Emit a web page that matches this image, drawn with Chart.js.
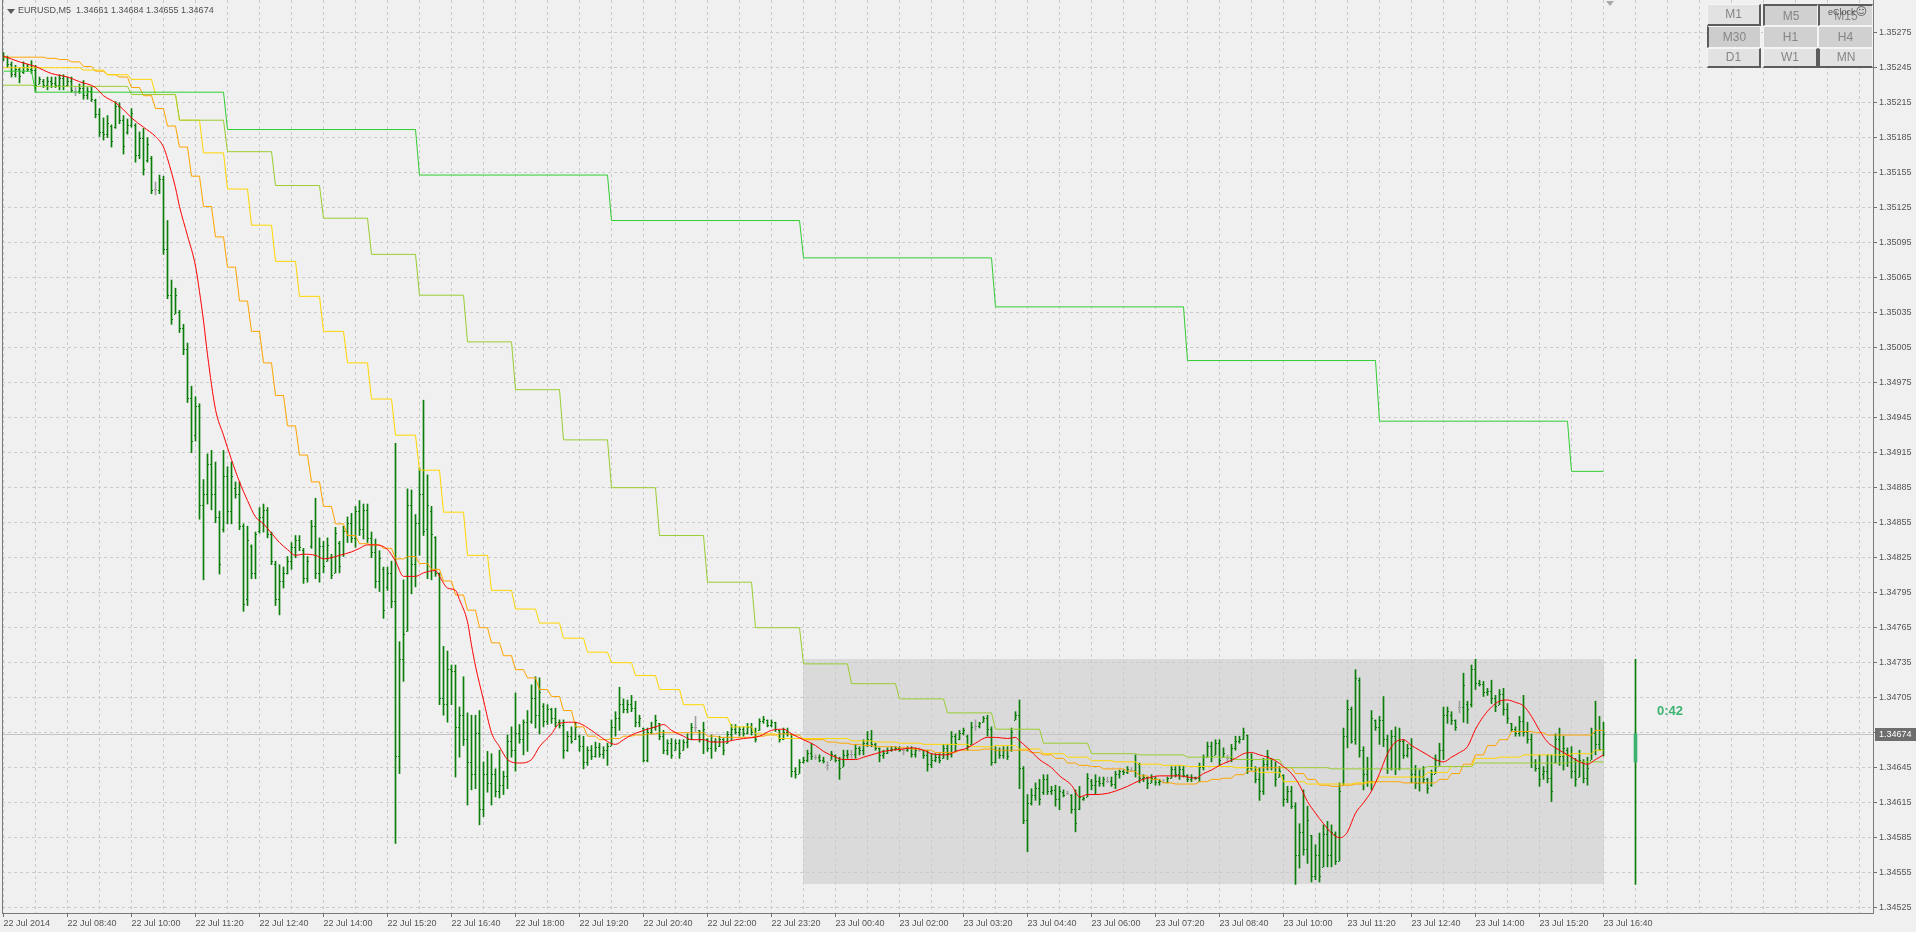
<!DOCTYPE html>
<html>
<head>
<meta charset="utf-8">
<title>EURUSD,M5</title>
<script src="https://cdn.jsdelivr.net/npm/chart.js@4.4.1/dist/chart.umd.min.js"></script>
<style>
  html, body { margin: 0; padding: 0; background: #f0f0f0; overflow: hidden; }
  #wrap { position: relative; width: 1916px; height: 932px; }
  #chart { position: absolute; left: 0; top: 0; }
  .txt { position: absolute; font-family: "Liberation Sans", Arial, sans-serif; white-space: pre; }
  .tri { position: absolute; width: 0; height: 0; border-left: 4px solid transparent; border-right: 4px solid transparent; }
  .btn { position: absolute; box-sizing: border-box; font: 12px "Liberation Sans", Arial, sans-serif; color: #858585;
         text-align: center; border: 1px solid #f4f4f4; }
</style>
</head>
<body>
<div id="wrap">
  <canvas id="chart" width="1916" height="932"></canvas>

  <div class="tri" style="left:7px;top:9px;border-top:5px solid #5a5a5a;"></div>
  <div class="txt" id="title" style="left:18px;top:5px;font-size:9px;color:#505050;"></div>
  <div class="tri" style="left:1606px;top:1px;border-top:5px solid #a8a8a8;"></div>

  <div class="btn" style="left:1707px;top:4px;width:54px;height:22px;line-height:19px;background:#e2e2e2;border-right:2px solid #5c5c5c;border-bottom:2px solid #5c5c5c;">M1</div>
  <div class="btn" style="left:1763px;top:4px;width:55px;height:22px;line-height:21px;background:#d0d0d0;border-top:2px solid #5c5c5c;border-left:2px solid #5c5c5c;">M5</div>
  <div class="btn" style="left:1818px;top:4px;width:55px;height:22px;line-height:21px;background:#d6d6d6;border-top:2px solid #5c5c5c;border-left:2px solid #5c5c5c;">M15</div>
  <div class="btn" style="left:1707px;top:26px;width:54px;height:22px;line-height:20px;background:#cdcdcd;border-left:2px solid #5c5c5c;">M30</div>
  <div class="btn" style="left:1763px;top:26px;width:55px;height:22px;line-height:20px;background:#d0d0d0;">H1</div>
  <div class="btn" style="left:1818px;top:26px;width:55px;height:22px;line-height:20px;background:#d0d0d0;">H4</div>
  <div class="btn" style="left:1707px;top:48px;width:54px;height:20px;line-height:17px;background:#e2e2e2;border-right:2px solid #5c5c5c;border-bottom:2px solid #5c5c5c;">D1</div>
  <div class="btn" style="left:1763px;top:48px;width:55px;height:20px;line-height:17px;background:#e2e2e2;border-right:2px solid #5c5c5c;border-bottom:2px solid #5c5c5c;">W1</div>
  <div class="btn" style="left:1818px;top:48px;width:55px;height:20px;line-height:17px;background:#e2e2e2;border-left:2px solid #5c5c5c;border-bottom:2px solid #5c5c5c;">MN</div>
  <div class="txt" style="left:1828px;top:5px;font-size:9px;color:#555;">eClock<span style="font-family:'DejaVu Sans';font-size:11px;">☺</span></div>

  <div class="txt" id="timer" style="left:1657px;top:703px;font-size:13px;font-weight:bold;color:#3cb371;"></div>
</div>

<script>
// ---- header / timer text
const symbolName = 'EURUSD,M5';
const timerText = '0:42';

// ---- x axis: bar 0 = 22 Jul 07:20 (M5 bars), labels every 16 bars
const xTickBars = [0, 16, 32, 48, 64, 80, 96, 112, 128, 144, 160, 176, 192, 208, 224, 240, 256, 272, 288, 304, 320, 336, 352, 368, 384, 400];
const xTickLabels = ['22 Jul 2014', '22 Jul 08:40', '22 Jul 10:00', '22 Jul 11:20', '22 Jul 12:40', '22 Jul 14:00', '22 Jul 15:20',
  '22 Jul 16:40', '22 Jul 18:00', '22 Jul 19:20', '22 Jul 20:40', '22 Jul 22:00', '22 Jul 23:20', '23 Jul 00:40', '23 Jul 02:00',
  '23 Jul 03:20', '23 Jul 04:40', '23 Jul 06:00', '23 Jul 07:20', '23 Jul 08:40', '23 Jul 10:00', '23 Jul 11:20', '23 Jul 12:40',
  '23 Jul 14:00', '23 Jul 15:20', '23 Jul 16:40'];

// ---- y axis ticks
const yTicks = [1.34525, 1.34555, 1.34585, 1.34615, 1.34645, 1.34675, 1.34705, 1.34735, 1.34765, 1.34795, 1.34825, 1.34855, 1.34885,
  1.34915, 1.34945, 1.34975, 1.35005, 1.35035, 1.35065, 1.35095, 1.35125, 1.35155, 1.35185, 1.35215, 1.35245, 1.35275];

// ---- OHLC bars (401 x M5)
const opens = [
  1.35252,1.35254,1.35248,1.35240,1.35244,1.35241,1.35246,1.35244,1.35243,1.35231,
  1.35234,1.35230,1.35234,1.35232,1.35230,1.35236,1.35230,1.35234,1.35225,1.35225,
  1.35228,1.35222,1.35225,1.35217,1.35205,1.35190,1.35188,1.35195,1.35194,1.35212,
  1.35200,1.35190,1.35196,1.35196,1.35170,1.35185,1.35166,1.35168,1.35141,1.35140,
  1.35150,1.35090,1.35050,1.35034,1.35036,1.35022,1.35004,1.34962,1.34930,1.34955,
  1.34870,1.34880,1.34905,1.34880,1.34860,1.34850,1.34895,1.34865,1.34885,1.34880,
  1.34852,1.34790,1.34835,1.34812,1.34848,1.34860,1.34866,1.34845,1.34820,1.34790,
  1.34805,1.34812,1.34822,1.34834,1.34840,1.34832,1.34808,1.34835,1.34852,1.34812,
  1.34835,1.34822,1.34826,1.34812,1.34838,1.34828,1.34848,1.34855,1.34842,1.34865,
  1.34850,1.34866,1.34842,1.34830,1.34805,1.34815,1.34800,1.34812,1.34788,1.34655,
  1.34738,1.34762,1.34870,1.34820,1.34855,1.34880,1.34850,1.34865,1.34843,1.34812,
  1.34705,1.34700,1.34730,1.34728,1.34680,1.34690,1.34670,1.34650,1.34640,1.34675,
  1.34610,1.34640,1.34632,1.34640,1.34625,1.34630,1.34638,1.34668,1.34660,1.34675,
  1.34670,1.34684,1.34685,1.34705,1.34690,1.34698,1.34685,1.34695,1.34688,1.34684,
  1.34682,1.34660,1.34672,1.34670,1.34672,1.34664,1.34650,1.34660,1.34655,1.34663,
  1.34657,1.34660,1.34664,1.34680,1.34688,1.34700,1.34695,1.34700,1.34696,1.34684,
  1.34679,1.34652,1.34676,1.34680,1.34683,1.34672,1.34660,1.34666,1.34660,1.34666,
  1.34660,1.34667,1.34670,1.34680,1.34677,1.34670,1.34670,1.34662,1.34668,1.34664,
  1.34670,1.34666,1.34674,1.34678,1.34676,1.34678,1.34675,1.34680,1.34676,1.34677,
  1.34685,1.34686,1.34682,1.34684,1.34677,1.34670,1.34676,1.34674,1.34642,1.34640,
  1.34650,1.34652,1.34658,1.34654,1.34654,1.34652,1.34647,1.34652,1.34656,1.34652,
  1.34646,1.34656,1.34657,1.34657,1.34662,1.34660,1.34666,1.34670,1.34665,1.34662,
  1.34656,1.34658,1.34660,1.34661,1.34662,1.34660,1.34660,1.34662,1.34657,1.34660,
  1.34660,1.34656,1.34648,1.34652,1.34654,1.34653,1.34662,1.34658,1.34672,1.34670,
  1.34675,1.34672,1.34665,1.34681,1.34681,1.34684,1.34688,1.34678,1.34650,1.34660,
  1.34656,1.34660,1.34660,1.34686,1.34690,1.34645,1.34600,1.34615,1.34622,1.34628,
  1.34624,1.34635,1.34625,1.34626,1.34618,1.34624,1.34623,1.34622,1.34610,1.34610,
  1.34618,1.34620,1.34634,1.34630,1.34634,1.34632,1.34634,1.34634,1.34631,1.34640,
  1.34642,1.34641,1.34643,1.34643,1.34648,1.34636,1.34637,1.34632,1.34636,1.34633,
  1.34633,1.34633,1.34636,1.34644,1.34640,1.34644,1.34639,1.34635,1.34637,1.34636,
  1.34646,1.34654,1.34664,1.34656,1.34666,1.34654,1.34653,1.34653,1.34662,1.34668,
  1.34670,1.34673,1.34645,1.34646,1.34635,1.34625,1.34648,1.34653,1.34646,1.34637,
  1.34639,1.34618,1.34625,1.34612,1.34570,1.34590,1.34575,1.34587,1.34552,1.34570,
  1.34560,1.34588,1.34570,1.34588,1.34565,1.34630,1.34672,1.34695,1.34670,1.34720,
  1.34660,1.34640,1.34645,1.34686,1.34680,1.34686,1.34670,1.34645,1.34672,1.34645,
  1.34668,1.34656,1.34662,1.34640,1.34632,1.34638,1.34635,1.34630,1.34640,1.34652,
  1.34660,1.34690,1.34690,1.34686,1.34697,1.34697,1.34700,1.34700,1.34730,1.34718,
  1.34717,1.34710,1.34711,1.34705,1.34699,1.34708,1.34695,1.34683,1.34678,1.34675,
  1.34685,1.34676,1.34670,1.34650,1.34645,1.34640,1.34642,1.34636,1.34650,1.34670,
  1.34655,1.34660,1.34650,1.34642,1.34637,1.34650,1.34636,1.34652,1.34675,1.34665,
  1.34661];
const highs = [
  1.35258,1.35255,1.35250,1.35247,1.35245,1.35250,1.35248,1.35251,1.35247,1.35237,
  1.35235,1.35237,1.35237,1.35237,1.35239,1.35239,1.35237,1.35237,1.35228,1.35231,
  1.35234,1.35228,1.35229,1.35218,1.35210,1.35202,1.35204,1.35196,1.35216,1.35215,
  1.35204,1.35201,1.35210,1.35197,1.35190,1.35193,1.35185,1.35169,1.35147,1.35153,
  1.35152,1.35114,1.35063,1.35056,1.35037,1.35025,1.35009,1.34972,1.34963,1.34957,
  1.34892,1.34914,1.34917,1.34907,1.34865,1.34917,1.34903,1.34907,1.34890,1.34890,
  1.34854,1.34852,1.34836,1.34847,1.34868,1.34871,1.34868,1.34847,1.34822,1.34819,
  1.34817,1.34826,1.34838,1.34844,1.34844,1.34833,1.34826,1.34857,1.34876,1.34842,
  1.34839,1.34842,1.34828,1.34851,1.34839,1.34852,1.34860,1.34863,1.34869,1.34874,
  1.34871,1.34871,1.34847,1.34841,1.34831,1.34817,1.34817,1.34822,1.34923,1.34753,
  1.34806,1.34884,1.34883,1.34862,1.34902,1.34960,1.34896,1.34869,1.34843,1.34812,
  1.34749,1.34745,1.34733,1.34733,1.34697,1.34723,1.34692,1.34690,1.34690,1.34694,
  1.34650,1.34659,1.34657,1.34644,1.34660,1.34642,1.34673,1.34680,1.34709,1.34682,
  1.34686,1.34694,1.34716,1.34723,1.34722,1.34700,1.34699,1.34696,1.34696,1.34686,
  1.34686,1.34676,1.34680,1.34684,1.34673,1.34672,1.34663,1.34664,1.34667,1.34666,
  1.34663,1.34666,1.34686,1.34693,1.34714,1.34704,1.34703,1.34707,1.34702,1.34690,
  1.34679,1.34679,1.34684,1.34690,1.34683,1.34677,1.34669,1.34670,1.34669,1.34669,
  1.34669,1.34674,1.34683,1.34689,1.34677,1.34684,1.34670,1.34673,1.34670,1.34672,
  1.34670,1.34676,1.34682,1.34682,1.34680,1.34680,1.34683,1.34683,1.34679,1.34687,
  1.34689,1.34686,1.34686,1.34684,1.34677,1.34679,1.34679,1.34674,1.34645,1.34652,
  1.34654,1.34660,1.34666,1.34656,1.34656,1.34654,1.34650,1.34659,1.34656,1.34654,
  1.34660,1.34660,1.34660,1.34665,1.34663,1.34669,1.34676,1.34677,1.34666,1.34662,
  1.34660,1.34662,1.34663,1.34663,1.34663,1.34662,1.34663,1.34663,1.34662,1.34662,
  1.34660,1.34660,1.34657,1.34657,1.34657,1.34665,1.34665,1.34676,1.34674,1.34677,
  1.34679,1.34673,1.34684,1.34686,1.34684,1.34689,1.34690,1.34680,1.34663,1.34662,
  1.34663,1.34663,1.34679,1.34693,1.34703,1.34646,1.34622,1.34627,1.34632,1.34635,
  1.34639,1.34639,1.34629,1.34630,1.34629,1.34626,1.34625,1.34622,1.34626,1.34629,
  1.34620,1.34640,1.34635,1.34639,1.34637,1.34637,1.34637,1.34637,1.34642,1.34643,
  1.34643,1.34646,1.34645,1.34656,1.34649,1.34639,1.34637,1.34639,1.34637,1.34635,
  1.34635,1.34637,1.34646,1.34646,1.34647,1.34646,1.34639,1.34639,1.34637,1.34649,
  1.34656,1.34667,1.34667,1.34669,1.34669,1.34662,1.34656,1.34665,1.34672,1.34672,
  1.34679,1.34673,1.34657,1.34646,1.34645,1.34653,1.34660,1.34653,1.34650,1.34646,
  1.34639,1.34629,1.34629,1.34615,1.34597,1.34626,1.34612,1.34587,1.34579,1.34589,
  1.34596,1.34599,1.34596,1.34590,1.34632,1.34679,1.34703,1.34697,1.34729,1.34722,
  1.34663,1.34654,1.34694,1.34686,1.34689,1.34706,1.34673,1.34677,1.34680,1.34679,
  1.34669,1.34665,1.34670,1.34647,1.34643,1.34646,1.34636,1.34643,1.34656,1.34666,
  1.34697,1.34697,1.34693,1.34686,1.34702,1.34726,1.34702,1.34733,1.34738,1.34720,
  1.34719,1.34713,1.34720,1.34707,1.34712,1.34713,1.34700,1.34683,1.34680,1.34689,
  1.34707,1.34684,1.34674,1.34652,1.34656,1.34646,1.34656,1.34656,1.34674,1.34679,
  1.34672,1.34662,1.34663,1.34653,1.34660,1.34652,1.34654,1.34679,1.34702,1.34689,
  1.34684];
const lows = [
  1.35251,1.35245,1.35237,1.35237,1.35232,1.35240,1.35242,1.35240,1.35224,1.35231,
  1.35228,1.35226,1.35228,1.35228,1.35226,1.35226,1.35229,1.35224,1.35221,1.35223,
  1.35218,1.35218,1.35216,1.35202,1.35186,1.35183,1.35185,1.35177,1.35193,1.35197,
  1.35171,1.35188,1.35194,1.35164,1.35167,1.35153,1.35164,1.35137,1.35136,1.35137,
  1.35085,1.35047,1.35025,1.35034,1.35018,1.34999,1.34958,1.34915,1.34925,1.34858,
  1.34806,1.34871,1.34866,1.34855,1.34811,1.34847,1.34854,1.34854,1.34876,1.34849,
  1.34779,1.34784,1.34807,1.34807,1.34846,1.34847,1.34842,1.34819,1.34784,1.34776,
  1.34799,1.34811,1.34815,1.34825,1.34831,1.34803,1.34804,1.34833,1.34807,1.34804,
  1.34812,1.34822,1.34807,1.34812,1.34812,1.34826,1.34838,1.34838,1.34834,1.34844,
  1.34841,1.34838,1.34825,1.34799,1.34796,1.34773,1.34797,1.34782,1.34580,1.34640,
  1.34719,1.34762,1.34794,1.34800,1.34827,1.34844,1.34807,1.34806,1.34809,1.34699,
  1.34690,1.34684,1.34699,1.34637,1.34654,1.34664,1.34613,1.34626,1.34627,1.34596,
  1.34603,1.34624,1.34613,1.34620,1.34619,1.34622,1.34627,1.34654,1.34642,1.34666,
  1.34656,1.34659,1.34683,1.34679,1.34674,1.34680,1.34682,1.34683,1.34680,1.34679,
  1.34653,1.34659,1.34666,1.34669,1.34659,1.34644,1.34647,1.34652,1.34654,1.34654,
  1.34653,1.34647,1.34664,1.34672,1.34677,1.34692,1.34692,1.34693,1.34680,1.34680,
  1.34650,1.34650,1.34674,1.34677,1.34669,1.34657,1.34656,1.34653,1.34660,1.34653,
  1.34660,1.34662,1.34669,1.34676,1.34667,1.34657,1.34659,1.34653,1.34659,1.34663,
  1.34656,1.34666,1.34669,1.34674,1.34672,1.34672,1.34674,1.34673,1.34667,1.34677,
  1.34683,1.34680,1.34680,1.34676,1.34667,1.34669,1.34672,1.34637,1.34636,1.34640,
  1.34649,1.34650,1.34652,1.34652,1.34650,1.34649,1.34643,1.34652,1.34650,1.34635,
  1.34646,1.34653,1.34653,1.34653,1.34656,1.34656,1.34663,1.34663,1.34660,1.34650,
  1.34653,1.34657,1.34659,1.34660,1.34659,1.34656,1.34659,1.34654,1.34654,1.34659,
  1.34653,1.34642,1.34645,1.34650,1.34649,1.34653,1.34652,1.34654,1.34659,1.34669,
  1.34673,1.34660,1.34665,1.34677,1.34679,1.34684,1.34672,1.34647,1.34649,1.34653,
  1.34653,1.34652,1.34659,1.34686,1.34627,1.34597,1.34573,1.34613,1.34617,1.34613,
  1.34622,1.34622,1.34622,1.34612,1.34609,1.34620,1.34622,1.34606,1.34590,1.34609,
  1.34617,1.34620,1.34626,1.34622,1.34629,1.34629,1.34632,1.34629,1.34627,1.34636,
  1.34639,1.34640,1.34642,1.34637,1.34632,1.34633,1.34627,1.34632,1.34630,1.34630,
  1.34632,1.34632,1.34636,1.34637,1.34635,1.34637,1.34633,1.34633,1.34635,1.34633,
  1.34643,1.34654,1.34650,1.34656,1.34647,1.34654,1.34649,1.34650,1.34660,1.34666,
  1.34669,1.34640,1.34643,1.34632,1.34617,1.34622,1.34643,1.34643,1.34629,1.34637,
  1.34612,1.34615,1.34610,1.34545,1.34559,1.34570,1.34563,1.34547,1.34549,1.34547,
  1.34560,1.34560,1.34560,1.34562,1.34565,1.34630,1.34662,1.34666,1.34665,1.34654,
  1.34626,1.34629,1.34626,1.34677,1.34665,1.34663,1.34640,1.34643,1.34639,1.34643,
  1.34653,1.34654,1.34632,1.34627,1.34625,1.34632,1.34623,1.34629,1.34640,1.34647,
  1.34652,1.34683,1.34682,1.34677,1.34692,1.34684,1.34683,1.34697,1.34712,1.34715,
  1.34706,1.34707,1.34700,1.34693,1.34699,1.34690,1.34683,1.34676,1.34672,1.34672,
  1.34672,1.34666,1.34645,1.34642,1.34629,1.34635,1.34632,1.34616,1.34649,1.34647,
  1.34643,1.34646,1.34636,1.34629,1.34637,1.34632,1.34630,1.34652,1.34656,1.34660,
  1.34655];
const closes = [
  1.35254,1.35248,1.35240,1.35244,1.35238,1.35246,1.35244,1.35243,1.35230,1.35235,
  1.35230,1.35234,1.35232,1.35230,1.35236,1.35229,1.35234,1.35226,1.35225,1.35228,
  1.35222,1.35225,1.35218,1.35205,1.35190,1.35188,1.35198,1.35182,1.35212,1.35200,
  1.35178,1.35196,1.35206,1.35170,1.35185,1.35158,1.35180,1.35140,1.35141,1.35150,
  1.35090,1.35050,1.35030,1.35050,1.35022,1.35004,1.34962,1.34925,1.34955,1.34870,
  1.34880,1.34905,1.34880,1.34860,1.34820,1.34895,1.34865,1.34895,1.34880,1.34852,
  1.34785,1.34840,1.34812,1.34845,1.34860,1.34866,1.34845,1.34822,1.34790,1.34805,
  1.34812,1.34822,1.34834,1.34840,1.34834,1.34808,1.34822,1.34852,1.34812,1.34835,
  1.34818,1.34836,1.34810,1.34846,1.34818,1.34848,1.34855,1.34842,1.34865,1.34850,
  1.34866,1.34842,1.34830,1.34805,1.34825,1.34780,1.34812,1.34788,1.34655,1.34738,
  1.34760,1.34870,1.34820,1.34855,1.34880,1.34848,1.34870,1.34845,1.34812,1.34705,
  1.34700,1.34730,1.34728,1.34680,1.34690,1.34670,1.34650,1.34640,1.34675,1.34610,
  1.34640,1.34632,1.34640,1.34625,1.34630,1.34638,1.34668,1.34660,1.34675,1.34670,
  1.34684,1.34675,1.34705,1.34690,1.34710,1.34685,1.34695,1.34688,1.34684,1.34682,
  1.34660,1.34672,1.34668,1.34680,1.34664,1.34650,1.34660,1.34655,1.34663,1.34657,
  1.34660,1.34664,1.34680,1.34688,1.34700,1.34695,1.34700,1.34696,1.34684,1.34688,
  1.34652,1.34676,1.34680,1.34686,1.34672,1.34660,1.34666,1.34656,1.34666,1.34658,
  1.34667,1.34670,1.34680,1.34680,1.34670,1.34678,1.34662,1.34668,1.34662,1.34670,
  1.34660,1.34674,1.34678,1.34676,1.34678,1.34675,1.34680,1.34676,1.34670,1.34685,
  1.34687,1.34682,1.34684,1.34678,1.34670,1.34676,1.34674,1.34642,1.34640,1.34650,
  1.34652,1.34658,1.34655,1.34654,1.34652,1.34651,1.34647,1.34657,1.34652,1.34645,
  1.34656,1.34657,1.34657,1.34662,1.34660,1.34666,1.34670,1.34665,1.34662,1.34656,
  1.34658,1.34660,1.34661,1.34662,1.34660,1.34660,1.34662,1.34657,1.34660,1.34660,
  1.34656,1.34648,1.34652,1.34654,1.34652,1.34662,1.34658,1.34672,1.34666,1.34675,
  1.34677,1.34664,1.34680,1.34681,1.34683,1.34688,1.34678,1.34650,1.34660,1.34656,
  1.34660,1.34655,1.34676,1.34690,1.34645,1.34600,1.34615,1.34622,1.34628,1.34618,
  1.34635,1.34625,1.34626,1.34618,1.34625,1.34622,1.34623,1.34610,1.34598,1.34620,
  1.34619,1.34636,1.34630,1.34634,1.34632,1.34635,1.34634,1.34631,1.34640,1.34642,
  1.34641,1.34644,1.34643,1.34650,1.34636,1.34637,1.34632,1.34636,1.34633,1.34634,
  1.34633,1.34636,1.34644,1.34640,1.34644,1.34639,1.34635,1.34637,1.34636,1.34646,
  1.34654,1.34664,1.34655,1.34666,1.34652,1.34658,1.34653,1.34662,1.34668,1.34670,
  1.34676,1.34645,1.34652,1.34635,1.34625,1.34648,1.34655,1.34646,1.34635,1.34642,
  1.34618,1.34625,1.34612,1.34570,1.34590,1.34575,1.34600,1.34552,1.34570,1.34552,
  1.34588,1.34570,1.34590,1.34565,1.34625,1.34672,1.34695,1.34668,1.34722,1.34660,
  1.34640,1.34645,1.34688,1.34680,1.34686,1.34670,1.34645,1.34672,1.34645,1.34668,
  1.34656,1.34662,1.34640,1.34632,1.34638,1.34635,1.34628,1.34640,1.34652,1.34660,
  1.34690,1.34694,1.34686,1.34680,1.34697,1.34716,1.34695,1.34730,1.34718,1.34717,
  1.34710,1.34711,1.34705,1.34698,1.34708,1.34695,1.34688,1.34678,1.34675,1.34685,
  1.34676,1.34670,1.34650,1.34645,1.34635,1.34642,1.34636,1.34625,1.34670,1.34655,
  1.34662,1.34650,1.34642,1.34635,1.34652,1.34636,1.34645,1.34675,1.34665,1.34661,
  1.34674];

// ---- moving averages
// M5 (red), sampled at these bars
const redBars = [
  0, 4, 8, 12, 16, 19, 23, 25, 28, 30,
  32, 35, 38, 40, 41, 43, 44, 46, 48, 49,
  50, 51, 53, 55, 57, 59, 61, 63, 65, 67,
  69, 71, 73, 75, 78, 80, 82, 84, 87, 89,
  91, 93, 96, 98, 100, 103, 105, 108, 109, 111,
  113, 114, 116, 117, 118, 120, 122, 124, 126, 129,
  132, 134, 137, 139, 142, 144, 147, 149, 153, 155,
  157, 161, 163, 165, 167, 170, 172, 175, 177, 180,
  183, 185, 189, 192, 195, 197, 200, 203, 205, 208,
  210, 213, 215, 218, 220, 222, 225, 227, 230, 232,
  236, 238, 241, 243, 246, 248, 251, 253, 254, 256,
  259, 262, 264, 267, 269, 271, 273, 276, 278, 281,
  284, 287, 289, 292, 294, 296, 298, 300, 302, 304,
  306, 308, 310, 312, 314, 316, 318, 320, 322, 324,
  326, 328, 330, 332, 334, 335, 336, 338, 340, 342,
  344, 346, 348, 350, 352, 354, 356, 358, 360, 362,
  364, 366, 368, 370, 372, 374, 376, 378, 380, 382,
  384, 386, 388, 390, 392, 394, 396, 398, 400];
const redVals = [
  1.35255,1.35250,1.35246,1.35240,1.35237,1.35233,1.35228,1.35221,1.35215,1.35209,
  1.35202,1.35194,1.35186,1.35177,1.35167,1.35142,1.35126,1.35101,1.35075,1.35053,
  1.35028,1.34999,1.34952,1.34930,1.34909,1.34890,1.34874,1.34860,1.34854,1.34846,
  1.34838,1.34832,1.34827,1.34828,1.34827,1.34824,1.34825,1.34827,1.34830,1.34833,
  1.34836,1.34836,1.34832,1.34822,1.34809,1.34809,1.34812,1.34814,1.34809,1.34799,
  1.34797,1.34789,1.34770,1.34750,1.34732,1.34703,1.34675,1.34663,1.34652,1.34649,
  1.34652,1.34663,1.34674,1.34683,1.34684,1.34683,1.34677,1.34672,1.34665,1.34669,
  1.34673,1.34678,1.34680,1.34682,1.34677,1.34672,1.34669,1.34669,1.34667,1.34667,
  1.34669,1.34670,1.34672,1.34677,1.34678,1.34674,1.34669,1.34664,1.34659,1.34654,
  1.34652,1.34652,1.34654,1.34657,1.34659,1.34660,1.34661,1.34662,1.34660,1.34657,
  1.34656,1.34659,1.34662,1.34666,1.34671,1.34671,1.34670,1.34671,1.34668,1.34662,
  1.34652,1.34645,1.34638,1.34630,1.34620,1.34622,1.34622,1.34623,1.34625,1.34629,
  1.34634,1.34637,1.34638,1.34638,1.34638,1.34637,1.34636,1.34640,1.34643,1.34647,
  1.34650,1.34653,1.34657,1.34658,1.34656,1.34654,1.34651,1.34646,1.34640,1.34630,
  1.34616,1.34606,1.34597,1.34589,1.34585,1.34586,1.34590,1.34606,1.34615,1.34625,
  1.34640,1.34657,1.34667,1.34669,1.34664,1.34660,1.34656,1.34652,1.34650,1.34654,
  1.34658,1.34663,1.34678,1.34689,1.34697,1.34702,1.34703,1.34701,1.34698,1.34689,
  1.34677,1.34667,1.34662,1.34658,1.34654,1.34650,1.34648,1.34652,1.34656];

// M15 (orange), one value per 15 minutes, first period starts at bar -1
const m15Vals = [
  1.35254,1.35254,1.35254,1.35254,1.35253,1.35252,1.35250,1.35246,1.35242,1.35239,
  1.35237,1.35228,1.35221,1.35210,1.35195,1.35177,1.35152,1.35126,1.35100,1.35074,
  1.35045,1.35019,1.34992,1.34964,1.34938,1.34913,1.34890,1.34869,1.34854,1.34844,
  1.34837,1.34836,1.34833,1.34824,1.34826,1.34820,1.34815,1.34805,1.34793,1.34780,
  1.34765,1.34752,1.34741,1.34729,1.34722,1.34712,1.34706,1.34694,1.34680,1.34672,
  1.34669,1.34670,1.34672,1.34673,1.34674,1.34675,1.34675,1.34675,1.34675,1.34672,
  1.34671,1.34671,1.34671,1.34672,1.34673,1.34674,1.34673,1.34669,1.34669,1.34667,
  1.34666,1.34665,1.34664,1.34663,1.34663,1.34662,1.34661,1.34660,1.34658,1.34658,
  1.34660,1.34660,1.34661,1.34660,1.34660,1.34660,1.34658,1.34656,1.34653,1.34649,
  1.34647,1.34646,1.34644,1.34644,1.34642,1.34638,1.34635,1.34632,1.34631,1.34631,
  1.34633,1.34635,1.34636,1.34639,1.34642,1.34645,1.34645,1.34645,1.34640,1.34635,
  1.34630,1.34629,1.34630,1.34631,1.34633,1.34633,1.34633,1.34632,1.34632,1.34632,
  1.34635,1.34640,1.34648,1.34656,1.34664,1.34669,1.34676,1.34676,1.34675,1.34673,
  1.34673,1.34673,1.34673,1.34677];
// M30 (gold), first period starts at bar -4
const m30Vals = [
  1.35245,1.35245,1.35245,1.35245,1.35243,1.35239,1.35235,1.35222,1.35200,1.35172,
  1.35141,1.35110,1.35079,1.35049,1.35019,1.34992,1.34961,1.34930,1.34900,1.34864,
  1.34827,1.34797,1.34781,1.34769,1.34756,1.34744,1.34735,1.34724,1.34712,1.34699,
  1.34688,1.34680,1.34674,1.34670,1.34670,1.34670,1.34668,1.34667,1.34666,1.34665,
  1.34665,1.34663,1.34664,1.34661,1.34657,1.34654,1.34651,1.34650,1.34648,1.34647,
  1.34646,1.34646,1.34645,1.34641,1.34633,1.34631,1.34631,1.34632,1.34637,1.34637,
  1.34641,1.34646,1.34653,1.34654,1.34656,1.34656,1.34657,1.34660];
// H1 (yellow green), first period starts at bar -4
const h1Vals = [
  1.35230,1.35229,1.35229,1.35222,1.35200,1.35173,1.35144,1.35116,1.35085,1.35050,
  1.35010,1.34969,1.34926,1.34885,1.34844,1.34804,1.34765,1.34734,1.34717,1.34704,
  1.34692,1.34678,1.34666,1.34657,1.34656,1.34654,1.34652,1.34645,1.34644,1.34644,
  1.34646,1.34649,1.34649,1.34650];
// H4 (lime green), first period starts at bar -40
const h4Vals = [1.35242, 1.35224, 1.35192, 1.35153, 1.35114, 1.35082, 1.35040, 1.34994, 1.34942, 1.34899];

// ---- today's range (23 Jul) and the daily candle drawn right of the bars
const dayStartBar = 200;
const dayRange = [1.34545, 1.34738];
const dayCandleBar = 408;
const dayCandle = { open: 1.34650, high: 1.34738, low: 1.34545, close: 1.34674 };

// ---------------------------------------------------------------
const lastBar = opens.length - 1;
const bidPrice = closes[lastBar];
const barColor = '#0b7d0b';
const dojiColor = '#a0a0a0';

document.getElementById('title').textContent =
  symbolName + '  ' + [opens[lastBar], highs[lastBar], lows[lastBar], closes[lastBar]].map(v => v.toFixed(5)).join(' ');
document.getElementById('timer').textContent = timerText;

// step line for a higher timeframe MA: one value per period of `len` bars
function stepPoints(values, first, len) {
  const pts = [];
  values.forEach((v, k) => {
    const s = Math.max(first + k * len, 0);
    const e = Math.min(first + k * len + len - 1, lastBar);
    if (e < s) return;
    pts.push({ x: s, y: v }, { x: e, y: v });
  });
  return pts;
}

const barData = highs.map((h, i) => ({ x: i, y: [lows[i], h] }));
const barColors = opens.map((o, i) => (o === closes[i] ? dojiColor : barColor));

// background, today's range box, left border
const backdrop = {
  id: 'backdrop',
  beforeDraw(chart) {
    const { ctx, chartArea: a, scales: { x, y } } = chart;
    ctx.save();
    ctx.fillStyle = '#f0f0f0';
    ctx.fillRect(0, 0, chart.width, chart.height);
    const x0 = Math.round(x.getPixelForValue(dayStartBar) - 0.5);
    const x1 = Math.round(x.getPixelForValue(lastBar) + 0.5);
    const y0 = Math.round(y.getPixelForValue(dayRange[1]));
    const y1 = Math.round(y.getPixelForValue(dayRange[0]));
    ctx.fillStyle = '#dadada';
    ctx.fillRect(x0, y0, x1 - x0, y1 - y0);
    ctx.restore();
  },
  beforeDatasetsDraw(chart) {
    const { ctx, chartArea: a, scales: { y } } = chart;
    const yb = Math.round(y.getPixelForValue(bidPrice)) + 0.5;
    ctx.save();
    ctx.strokeStyle = '#c4c4c4';
    ctx.lineWidth = 1;
    ctx.beginPath();
    ctx.moveTo(a.left, yb);
    ctx.lineTo(a.right, yb);
    ctx.stroke();
    ctx.restore();
  },
  afterDraw(chart) {
    const { ctx, chartArea: a, scales: { y } } = chart;
    ctx.save();
    ctx.strokeStyle = '#7a7a7a';
    ctx.lineWidth = 1;
    ctx.beginPath();
    ctx.moveTo(a.left + 0.5, a.top);
    ctx.lineTo(a.left + 0.5, a.bottom);
    ctx.stroke();
    // bid price label on the price axis
    const yb = Math.round(y.getPixelForValue(bidPrice));
    ctx.fillStyle = '#6e6e6e';
    ctx.fillRect(a.right + 2, yb - 6, chart.width - a.right - 2, 13);
    ctx.fillStyle = '#ffffff';
    ctx.font = '9px "Liberation Sans", Arial, sans-serif';
    ctx.textBaseline = 'middle';
    ctx.fillText(bidPrice.toFixed(5), a.right + 6, yb + 1);
    ctx.restore();
  }
};

// open (left) and close (right) ticks of each bar
const ohlcTicks = {
  id: 'ohlcTicks',
  afterDatasetDraw(chart, args) {
    if (args.index !== 0) return;
    const { ctx, scales: { x, y } } = chart;
    ctx.save();
    ctx.lineWidth = 1;
    for (let i = 0; i <= lastBar; i++) {
      const px = Math.round(x.getPixelForValue(i) - 0.5);
      const yo = Math.round(y.getPixelForValue(opens[i])) + 0.5;
      const yc = Math.round(y.getPixelForValue(closes[i])) + 0.5;
      ctx.strokeStyle = barColors[i];
      ctx.beginPath();
      ctx.moveTo(px - 1, yo); ctx.lineTo(px, yo);
      ctx.moveTo(px + 1, yc); ctx.lineTo(px + 2, yc);
      ctx.stroke();
    }
    ctx.restore();
  }
};

const lineStyle = { type: 'line', borderWidth: 1, pointRadius: 0, tension: 0, fill: false, order: 1 };

new Chart(document.getElementById('chart'), {
  type: 'bar',
  data: {
    datasets: [
      { data: barData, backgroundColor: barColors, barThickness: 1, grouped: false, borderWidth: 0, order: 10 },
      { data: [{ x: dayCandleBar, y: [dayCandle.low, dayCandle.high] }], backgroundColor: barColor,
        barThickness: 1, grouped: false, borderWidth: 0, order: 9 },
      { data: [{ x: dayCandleBar, y: [dayCandle.open, dayCandle.close] }], backgroundColor: '#3cb371',
        barThickness: 3, grouped: false, borderWidth: 0, order: 8 },
      { ...lineStyle, data: stepPoints(h4Vals, -40, 48), borderColor: '#32cd32' },
      { ...lineStyle, data: stepPoints(h1Vals, -4, 12), borderColor: '#9acd32' },
      { ...lineStyle, data: stepPoints(m30Vals, -4, 6), borderColor: '#ffd700' },
      { ...lineStyle, data: stepPoints(m15Vals, -1, 3), borderColor: '#ffa500' },
      { ...lineStyle, data: redBars.map((b, k) => ({ x: b, y: redVals[k] })), borderColor: '#ff0000',
        cubicInterpolationMode: 'monotone', order: 0 }
    ]
  },
  options: {
    responsive: false,
    devicePixelRatio: 1,
    animation: false,
    events: [],
    layout: { padding: { left: 2, top: 0, right: 0, bottom: 0 } },
    plugins: { legend: { display: false }, tooltip: { enabled: false } },
    scales: {
      x: {
        type: 'linear',
        min: -0.375,
        max: 467.375,
        offset: false,
        afterBuildTicks: (s) => {
          const t = [];
          for (let v = 0; v <= 464; v += 8) t.push({ value: v });
          s.ticks = t;
        },
        afterFit: (s) => { s.height = 19; s.paddingLeft = 0; s.paddingRight = 0; },
        ticks: {
          autoSkip: false, maxRotation: 0, minRotation: 0, align: 'start', padding: 1,
          color: '#555555', font: { family: '"Liberation Sans", Arial, sans-serif', size: 9 },
          callback: (v) => { const k = xTickBars.indexOf(v); return k >= 0 ? xTickLabels[k] : ''; }
        },
        grid: {
          offset: false, color: '#cbcbcb', lineWidth: 1, tickLength: 4,
          tickColor: (c) => (xTickBars.indexOf(c.tick && c.tick.value) >= 0 ? '#707070' : 'rgba(0,0,0,0)')
        },
        border: { display: true, color: '#7a7a7a', width: 1, dash: [3, 3] }
      },
      y: {
        type: 'linear',
        position: 'right',
        min: 1.3452046,
        max: 1.3530303,
        afterBuildTicks: (s) => { s.ticks = yTicks.map(v => ({ value: v })); },
        afterFit: (s) => { s.width = 43; s.paddingTop = 0; s.paddingBottom = 0; },
        ticks: {
          autoSkip: false, padding: 2, color: '#555555',
          font: { family: '"Liberation Sans", Arial, sans-serif', size: 9 },
          callback: (v) => v.toFixed(5)
        },
        grid: { color: '#cbcbcb', lineWidth: 1, tickLength: 4, tickColor: '#707070' },
        border: { display: true, color: '#7a7a7a', width: 1, dash: [3, 3] }
      }
    }
  },
  plugins: [backdrop, ohlcTicks]
});
</script>
</body>
</html>
